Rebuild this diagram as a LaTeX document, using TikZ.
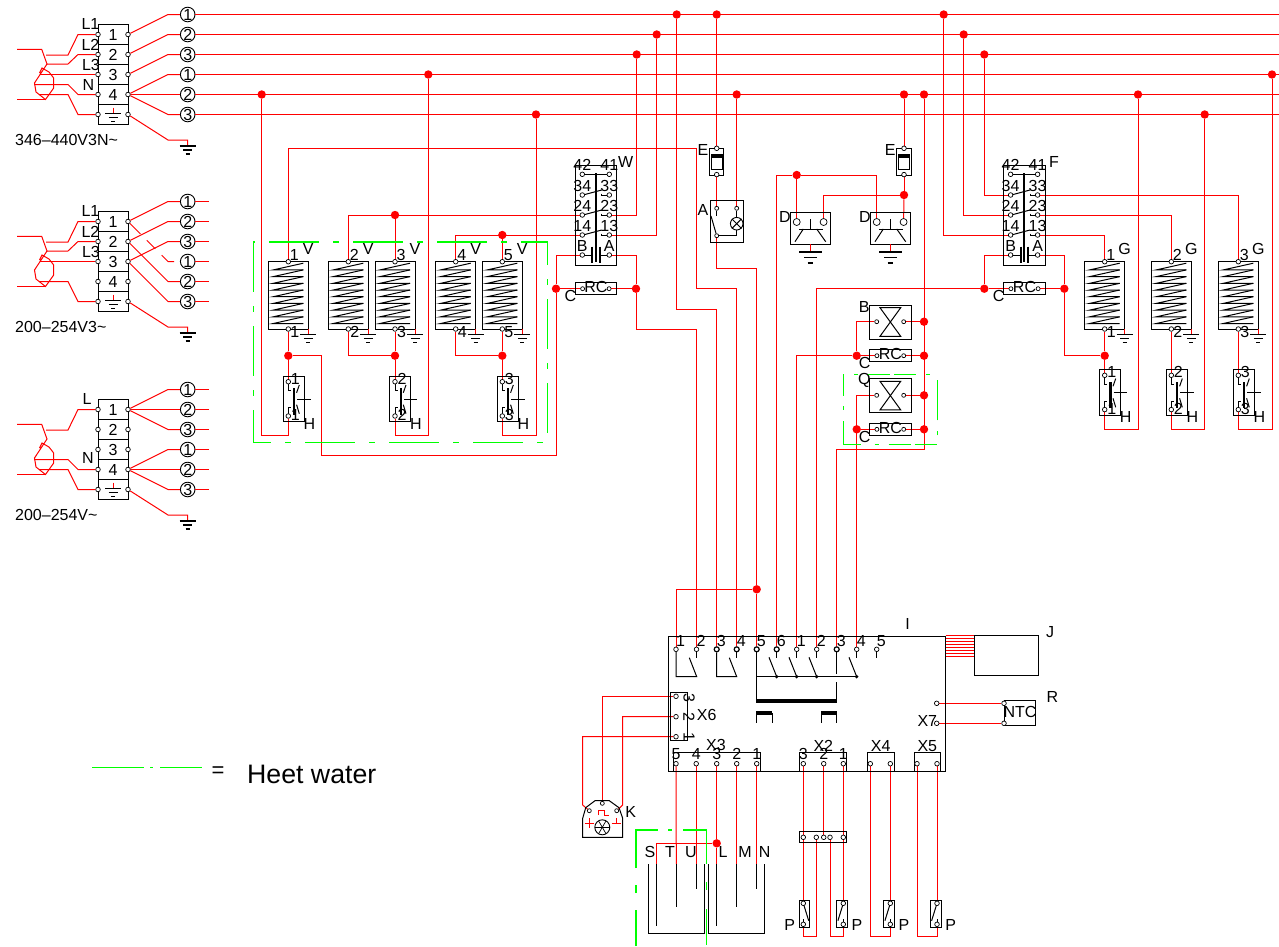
\documentclass[tikz,border=0pt]{standalone}
\usepackage{fontspec}
\setmainfont{Liberation Sans}
\usetikzlibrary{calc,backgrounds}

\tikzset{
	wire/.style={red,line width=1pt},
	part/.style={black,line width=1pt},
	heavy/.style={black,line width=2.2pt},
	gnd/.style={black,line width=1.5pt},
	heat/.style={green,line width=1.2pt,dash pattern=on 50pt off 14pt on 6pt off 14pt},
	term/.style={circle,draw=black,fill=white,line width=0.7pt,inner sep=0pt,minimum size=4.6pt},
	termb/.style={term,line width=1.2pt,minimum size=5pt},
	termw/.style={term,minimum size=7pt},
	dot/.style={circle,fill=red,inner sep=0pt,minimum size=8.4pt},
	bub/.style={circle,draw=black,fill=white,line width=0.9pt,inner sep=0pt,minimum size=14.6pt,font=\fontsize{16}{16}\selectfont},
	lab/.style={inner sep=0pt,font=\fontsize{16}{16}\selectfont},
}

% x, y, size
\newcommand{\earth}[3]{
	\draw[gnd] (#1-8*#3,#2) -- (#1+8*#3,#2);
	\draw[gnd] (#1-4.5*#3,#2+4*#3) -- (#1+4.5*#3,#2+4*#3);
	\draw[gnd] (#1-2*#3,#2+8*#3) -- (#1+2*#3,#2+8*#3);
}

% name, y shift, fan wires, inlet wires, labels, volts
\newcommand{\supply}[6]{
\begin{scope}[shift={(0,#2)}]
	\draw[part] (98,24.5) rectangle (128,124.5);
	\foreach \y in {44.5,64.5,84.5,104.5} \draw[part] (98,\y) -- (128,\y);
	\foreach \i/\y in {1/34.5,2/54.5,3/74.5,4/94.5} \node[lab] (#1n\i) at (113,\y) {\i};
	\foreach \i/\y in {1/34.5,2/54.5,3/74.5,4/94.5,5/114.5} {
		\node[term] (#1l\i) at (98,\y) {};
		\node[term] (#1r\i) at (128,\y) {};
	}
	\foreach \i/\n/\y in {1/1/14.5,2/2/34.5,3/3/54.5,4/1/74.5,5/2/94.5,6/3/114.5} {
		\node[bub] (#1c\i) at (187.7,\y) {\n};
		\coordinate (#1k\i) at (168,\y);
	}
	\draw[wire] (113,107.5) -- (113,113);
	\earth{113}{113.5}{1}
	\coordinate (#1k) at (168,140);
	\coordinate (#1g) at (187.7,146);
	\draw[wire] (#1r5) -- (#1k) -- (187.7,140) -- (#1g);
	\earth{187.7}{146}{1}
	\foreach \r/\c in {#3} \draw[wire] (#1r\r) -- (#1k\c) -- (#1c\c);
	% hand loop and inlet
	\draw[wire] (17,49.3) -- (41.7,49.3) -- (47,64) -- (34.5,83) -- (36,92) -- (45.5,99.5) -- (53.7,88) -- (53.7,78) -- (49,72) -- (42,68) -- (39.5,73);
	\draw[wire] (17,99.5) -- (45.5,99.5);
	\foreach \i/\s/\a/\b in {#4} \draw[wire] (\s,\a) -- (68,\a) -- (78,\b) -- (#1l\i);
	\foreach \s/\x/\y in {#5} \node[lab] (#1p\s) at (\x,\y) {\s};
	\node[lab,anchor=west] (#1v) at (15,140) {#6};
\end{scope}}

% name, x, number, letter
\newcommand{\coil}[4]{
\begin{scope}[shift={(#2,261.7)}]
	\node[part,draw,inner sep=0pt,minimum width=40pt,minimum height=67.3pt] (#1) at (0,33.65) {};
	\foreach \k in {0,...,8} {
		\draw[black,line width=1pt] (15,1.5+\k*6.7) -- (-15,8.2+\k*6.7) -- (15,8.2+\k*6.7);
	}
	\node[term] (#1t) at (0,0) {};
	\node[term] (#1b) at (0,67.3) {};
	\node[lab] (#1n) at (6,-7) {#3};
	\node[lab] (#1l) at (20,-13) {#4};
	\node[lab] (#1m) at (6.5,70.5) {#3};
	\draw[wire] (20,67.3) -- (20,73);
	\earth{20}{73}{1}
\end{scope}}

% name, x, y of upper terminal, number
\newcommand{\hsw}[4]{
\begin{scope}[shift={(#2,#3)}]
	\draw[part] (-5.3,-5.7) rectangle (15.7,40);
	\draw[part] (0,2.7) -- (0,9) -- (2.7,9);
	\draw[part] (11,3.3) -- (8.3,11);
	\draw[part] (0,32) -- (0,26) -- (2.7,26);
	\draw[part] (8.3,23) -- (11,32);
	\draw[part] (9,17.3) -- (22.3,17.3);
	\draw[heavy] (5.7,6.7) -- (5.7,33);
	\node[term] (#1t) at (0,0) {};
	\node[term] (#1b) at (0,34.3) {};
	\node[lab] (#1n) at (7,-3) {#4};
	\node[lab] (#1m) at (7,33.5) {#4};
	\node[lab] (#1l) at (21,42) {H};
\end{scope}}

% name, left of box, letter, x of letter
\newcommand{\contactor}[3]{
\begin{scope}[shift={(#2,165)}]
	\draw[part] (0,0) rectangle (41.7,100.3);
	\draw[part] (8,9.3) -- (34,9.3);
	\foreach \n/\m/\y in {34/33/30,24/23/50,14/13/70} {
		\draw[part] (8,\y) -- (26.7,\y-5);
		\draw[part] (26.7,\y-1.5) -- (26.7,\y) -- (34,\y);
	}
	\draw[heavy] (20.7,8) -- (20.7,97);
	\draw[heavy] (17.3,81.7) -- (17.3,97.7);
	\draw[heavy] (25,81.7) -- (25,97.7);
	\draw[part] (7.3,90) -- (17.3,90);
	\draw[part] (25,90) -- (34.3,90);
	\foreach \n/\m/\y in {42/41/9.3,34/33/30,24/23/50,14/13/70,B/A/90} {
		\node[term] (#1t\n) at (7.3,\y) {};
		\node[term] (#1t\m) at (34.3,\y) {};
		\node[lab] (#1n\n) at (7.3,\y-9.3) {\n};
		\node[lab] (#1n\m) at (34.3,\y-9.3) {\m};
	}
	\node[lab] (#1l) at (50.7,-3) {#3};
\end{scope}}

% name, left of box, y, width
\newcommand{\rcbox}[4]{
\begin{scope}[shift={(#2,#3)}]
	\draw[part] (0,-5.8) rectangle (#4,5.8);
	\node[term,minimum size=4pt] (#1l) at (7.6,0) {};
	\node[term,minimum size=4pt] (#1r) at (#4-7.6,0) {};
	\node[lab] (#1n) at (#4/2,-1.5) {RC};
	\node[lab] (#1c) at (-4.7,7.5) {C};
\end{scope}}

% name, y of terminals, letter
\newcommand{\valve}[3]{
\begin{scope}[shift={(869.3,#2)}]
	\draw[part] (0,-16.7) rectangle (42,17.3);
	\draw[part] (10.7,-14) -- (31.4,-14) -- (10.7,14.6) -- (31.4,14.6) -- cycle;
	\node[term,minimum size=4pt] (#1l) at (7.4,0) {};
	\node[term,minimum size=4pt] (#1r) at (34.4,0) {};
	\node[lab] (#1n) at (-5,-15) {#3};
\end{scope}}

% name, x
\newcommand{\fuse}[2]{
\begin{scope}[shift={(#2,148.3)}]
	\draw[part] (-7.7,0) rectangle (7,27);
	\draw[part] (-5.4,5.7) rectangle (5.6,20.7);
	\fill[black] (-5.4,5.7) rectangle (5.6,9.7);
	\node[term] (#1t) at (0,0) {};
	\node[term] (#1b) at (0,26.3) {};
	\node[lab] (#1n) at (-13.7,1.4) {E};
\end{scope}}

% name, x, letter
\newcommand{\horn}[2]{
\begin{scope}[shift={(#2,212.3)}]
	\draw[part] (0,0) rectangle (40,32);
	\draw[part] (9,16.7) -- (32.4,16.7);
	\draw[part] (20,6.7) -- (20,16.7);
	\draw[part] (4.7,29.4) -- (13,16.7);
	\draw[part] (26.4,16.7) -- (35.4,29.4);
	\node[termw] (#1l) at (6.4,9.7) {};
	\node[termw] (#1r) at (33.3,9.7) {};
	\node[lab] (#1n) at (-5.4,4.5) {D};
	\draw[wire] (20,32) -- (20,39.4);
	\earth{20}{39.7}{1.4}
\end{scope}}

% name, x, direction
\newcommand{\psw}[3]{
\begin{scope}[shift={(#2,903.3)},xscale=#3]
	\draw[part] (-4.3,-3.3) rectangle (6.4,24);
	\draw[part] (0,0) -- (5.4,17.4);
	\draw[part] (0,16) -- (0,21);
	\node[term] (#1t) at (0,0) {};
	\node[term] (#1b) at (0,21) {};
	\node[lab] (#1n) at (-13.7,21.7) {P};
\end{scope}}

\begin{document}
\begin{tikzpicture}[x=1pt,y=-1pt]
	\useasboundingbox (0,0) rectangle (1279,946);

	% supply blocks
	\supply{a}{0}{1/1,2/2,3/3,4/4,4/5,4/6}{1/46/55/34.5,2/47/64/54.5,3/40/74.5/74.5,4/34/84.5/94.5,5/39/94.5/114.5}{L1/90.5/24,L2/90.5/45,L3/91/64.5,N/88.5/85}{346–440V3N\textasciitilde}
	\supply{b}{187}{1/1,2/2,3/3,2/5,3/6}{1/46/55/34.5,2/47/64/54.5,3/40/74.5/74.5,5/39/94.5/114.5}{L1/90.5/24,L2/90.5/45,L3/91/64.5}{200–254V3\textasciitilde}
	\supply{c}{375}{1/1,1/2,1/3,4/4,4/5,4/6}{1/46/55/34.5,4/34/84.5/94.5,5/39/94.5/114.5}{L/87/24,N/88/83}{200–254V\textasciitilde}
	\draw[wire,dash pattern=on 15pt off 9pt on 12pt off 9pt] (br1) -- (bk4) -- (bc4);
	\foreach \i in {1,...,6} {
		\coordinate (ae\i) at (1279,{-5.5+20*\i});
		\draw[wire] (ac\i) -- (ae\i);
		\coordinate (be\i) at (208.5,{181.5+20*\i});
		\draw[wire] (bc\i) -- (be\i);
		\coordinate (ce\i) at (208.5,{369.5+20*\i});
		\draw[wire] (cc\i) -- (ce\i);
	}

	% parts
	\coil{V1}{288.3}{1}{V}
	\coil{V2}{348.3}{2}{V}
	\coil{V3}{395}{3}{V}
	\coil{V4}{455.7}{4}{V}
	\coil{V5}{502.3}{5}{V}
	\coil{G1}{1104.7}{1}{G}
	\coil{G2}{1171.3}{2}{G}
	\coil{G3}{1238.3}{3}{G}
	\hsw{H1}{288.3}{381.7}{1}
	\hsw{H2}{395}{381.7}{2}
	\hsw{H3}{502.3}{381.7}{3}
	\hsw{HA}{1104.7}{375.3}{1}
	\hsw{HB}{1171.3}{375.3}{2}
	\hsw{HC}{1238.3}{375.3}{3}
	\contactor{W}{575}{W}
	\contactor{F}{1003.3}{F}
	\rcbox{RW}{575}{288.7}{41.7}
	\rcbox{RF}{1003.3}{288.7}{42.4}
	\rcbox{RB}{869.3}{355.7}{42}
	\rcbox{RQ}{869.3}{429.3}{42}
	\valve{B}{321.7}{B}
	\valve{Q}{395.3}{Q}
	\fuse{EA}{716.7}
	\fuse{EB}{904}
	\horn{DA}{790.3}
	\horn{DB}{870.3}

	% lamp
	\draw[part] (710.3,200.7) rectangle (743.7,242.3);
	\node[circle,draw=black,line width=0.9pt,inner sep=0pt,minimum size=12.6pt] (lamp) at (736.7,223.7) {};
	\draw[part] (lamp.north west) -- (lamp.south east);
	\draw[part] (lamp.north east) -- (lamp.south west);
	\node[term,minimum size=4pt] (A1) at (716.7,208.3) {};
	\node[term,minimum size=4pt] (A2) at (736.7,208.3) {};
	\node[term,minimum size=4pt] (A3) at (716.7,235.7) {};
	\draw[part] (A2) -- (lamp);
	\draw[part] (lamp) |- (A3);
	\draw[part] (A1) -- (716.7,216);
	\draw[part] (711,216) -- (A3);
	\node[lab] (Al) at (703,210) {A};

	% main board
	\draw[part] (668,636) rectangle (945.7,771.7);
	\node[lab] (Il) at (907.7,624.3) {I};
	\foreach \i/\n/\x/\s in {1/1/676/term,2/2/696.5/term,3/3/716.7/termb,4/4/736.7/termb,5/5/756.7/termb,6/6/776.7/termb,7/1/796.7/term,8/2/816.7/term,9/3/836.7/termb,10/4/856.7/term,11/5/876.7/term} {
		\node[\s] (i\i) at (\x,649.3) {};
		\node[lab] (il\i) at (\x+4.5,641) {\n};
	}
	\foreach \x in {696.5,736.7,776.7,796.7,816.7,856.7,876.7} \draw[part] (\x,651.5) -- (\x,657.7);
	\draw[part] (i1) -- (676,676.7) -- (696.7,676.7) -- (689.3,657.7);
	\draw[part] (i3) -- (716.7,676.7) -- (736.7,676.7) -- (729.3,657.7);
	\draw[part] (i5) -- (756.7,700.7);
	\draw[part] (756.7,676.7) -- (856.7,676.7);
	\foreach \x in {776.7,796.7,816.7,856.7} {
		\draw[part] (\x-7.7,657.3) -- (\x,676.7);
		\fill[black] (\x,676.7) circle (1.8);
	}
	\draw[black,line width=1.5pt] (i9) -- (836.7,674.3);
	\draw[part] (836.7,682.3) -- (836.7,700.7);
	\draw[black,line width=4pt] (756.2,701) -- (837.2,701);
	\draw[black,line width=4pt] (756.2,713) -- (772,713);
	\draw[black,line width=4pt] (821.2,713) -- (837.2,713);
	\foreach \x in {756.7,772,821.7,836.7} \draw[part] (\x,713) -- (\x,723.3);

	% display and sensor
	\draw[part] (974.3,635.3) rectangle (1038.7,675.7);
	\node[lab] (Jl) at (1050,631.7) {J};
	\foreach \y in {0,...,7} {
		\coordinate (ja\y) at (945.7,635.5+\y*3);
		\coordinate (jb\y) at (974.3,635.5+\y*3);
		\draw[wire,line width=0.8pt] (ja\y) -- (jb\y);
	}
	\draw[part] (1004,700.7) rectangle (1035.7,725.7);
	\node[term] (xa) at (936.7,703.3) {};
	\node[term] (xb) at (936.7,723.3) {};
	\node[term] (ntca) at (1004,703.3) {};
	\node[term] (ntcb) at (1004,723.3) {};
	\node[lab] (ntcl) at (1020,712) {NTC};
	\node[lab] (Rl) at (1052.3,697.3) {R};
	\node[lab] (X7l) at (927.3,720.7) {X7};

	% connectors on the board
	\draw[part] (670.7,692.7) rectangle (687,740);
	\node[term] (xs3) at (676,696.3) {};
	\node[term] (xs2) at (676,716.7) {};
	\node[term] (xs1) at (676,736.7) {};
	\node[lab,rotate=-90] (xn3) at (689,698) {3};
	\node[lab,rotate=-90] (xn2) at (689,717) {2};
	\node[lab,rotate=-90] (xn1) at (689,737) {1};
	\node[lab] (X6l) at (706.7,715) {X6};
	\draw[part] (673.3,771.7) |- (760.3,752.7) -- (760.3,771.7);
	\foreach \i/\x in {5/676,4/696.2,3/716.7,2/736.7,1/756.7} {
		\node[term] (xt\i) at (\x,763.7) {};
		\node[lab] (xm\i) at (\x,754.3) {\i};
	}
	\node[lab] (X3l) at (716,745) {X3};
	\draw[part] (799.7,771.7) |- (846.7,752.7) -- (846.7,771.7);
	\foreach \i/\x in {3/803.3,2/823.7,1/843.3} {
		\node[term] (xu\i) at (\x,763.7) {};
		\node[lab] (xv\i) at (\x,754.3) {\i};
	}
	\node[lab] (X2l) at (823.3,745.7) {X2};
	\draw[part] (867.3,771.7) |- (894,752.3) -- (894,771.7);
	\node[term] (xf1) at (870.3,763.7) {};
	\node[term] (xf2) at (890.3,763.7) {};
	\node[lab] (X4l) at (880.7,745.7) {X4};
	\draw[part] (914,771.7) |- (940.7,752.3) -- (940.7,771.7);
	\node[term] (xg1) at (917,763.7) {};
	\node[term] (xg2) at (937,763.7) {};
	\node[lab] (X5l) at (927.3,745.7) {X5};

	% pump
	\draw[part] (582.7,837.3) -- (622.7,837.3) -- (622.7,818.3) -- (619,807.7) -- (609.3,800.7) -- (595,800.7) -- (585.7,807.7) -- (582.7,818.3) -- cycle;
	\node[circle,draw=black,line width=0.9pt,inner sep=0pt,minimum size=15pt] (fan) at (602.3,827.3) {};
	\foreach \a in {0,60,120} \draw[part,line width=0.7pt] ($(fan)+(\a:7.5)$) -- ($(fan)+(\a+180:7.5)$);
	\node[term,minimum size=4pt] (ka) at (589.3,810.7) {};
	\node[term,minimum size=4pt] (kb) at (602.3,803.3) {};
	\node[term,minimum size=4pt] (kc) at (616.7,810.7) {};
	\draw[wire] (584.8,823.3) -- (593.8,823.3);
	\draw[wire] (589.3,818.3) -- (589.3,828.3);
	\draw[wire] (598.3,815) -- (598.3,810.7) -- (604.3,810.7) -- (604.3,815) -- (609,815);
	\draw[wire] (611.7,823.3) -- (620.7,823.3);
	\draw[wire] (616,818.3) -- (616,823.3);
	\node[lab] (Kl) at (630.7,811.7) {K};

	% tanks
	\draw[part] (648.3,864) |- (704.3,933.3) -- (704.3,864);
	\draw[part] (708.3,864) |- (764.7,933.3) -- (764.7,864);
	\foreach \n/\x/\d/\lx in {S/656.7/926/650,T/676.3/906.7/670,U/696.2/889/691,L/716.7/926/723,M/736.7/906.7/745,N/756.7/889/764.7} {
		\coordinate (r\n) at (\x,864);
		\draw[part] (r\n) -- (\x,\d);
		\node[lab] (rl\n) at (\lx,851.7) {\n};
	}

	% flow switches
	\draw[part] (799.7,831.7) rectangle (846.7,842.3);
	\foreach \i/\x in {1/803.3,2/816.3,3/823.7,4/830,5/843.3} \node[term] (bar\i) at (\x,837.3) {};
	\psw{PA}{803.3}{1}
	\psw{PB}{843.3}{-1}
	\psw{PC}{890.3}{-1}
	\psw{PD}{937}{-1}

	% junctions
	\foreach \n/\x/\y in {jb1/261.7/94.5,jb2/428.3/74.5,jb3/536/114.5,jb4/636.7/54.5,jb5/656.7/34.5,jb6/676.7/14.5,jb7/716.7/14.5,jb8/736.7/94.5,jb9/904/94.5,jb10/924/94.5,jb11/943.7/14.5,jb12/963.7/34.5,jb13/984.3/54.5,jb14/1138/94.5,jb15/1204.7/114.5,jb16/1272/74.5,
		jv23/395/215,jv45/502.3/235,jh1/288.3/355.7,jh2/395/355.7,jh3/502.3/355.7,jwl/556/288.7,jwr/636/288.7,
		jd/796.7/175,je/904/195,jb/924/321.7,jcl/856.7/355.7,jcr/924/355.7,jq/924/395.3,jrl/856.7/429.3,jrr/924/429.3,
		jfl/984.3/288.7,jfr/1064.3/288.7,jg/1104.7/355.7,ji/756.7/589.3,js/716.7/843.3} {
		\node[dot] (\n) at (\x,\y) {};
	}

	% wiring
	\begin{scope}[on background layer]
	\draw[wire] (jb1) |- (288.3,435.7) -- (H1b);
	\draw[wire] (jb2) |- (395,435.7) -- (H2b);
	\draw[wire] (jb3) |- (502.3,435.7) -- (H3b);
	\draw[wire] (V1t) |- (696.7,148.7) |- (736.7,288.7) -- (i4);
	\draw[wire] (jb6) |- (716.7,309) -- (i3);
	\draw[wire] (jb5) |- (Wt13);
	\draw[wire] (jb4) |- (Wt23);
	\draw[wire] (Wt24) -| (V2t);
	\draw[wire] (jv23) -- (V3t);
	\draw[wire] (Wt14) -| (V4t);
	\draw[wire] (jv45) -- (V5t);
	\draw[wire] (V1b) -- (jh1) -- (H1t);
	\draw[wire] (V3b) -- (jh2) -- (H2t);
	\draw[wire] (V5b) -- (jh3) -- (H3t);
	\draw[wire] (V2b) |- (jh2);
	\draw[wire] (V4b) |- (jh3);
	\draw[wire] (WtB) -| (jwl);
	\draw[wire] (jwl) |- (321.7,455.7) |- (jh1);
	\draw[wire] (WtA) -| (jwr);
	\draw[wire] (jwr) |- (696.5,329) -- (i2);
	\draw[wire] (jwl) -- (RWl);
	\draw[wire] (RWr) -- (jwr);
	\draw[wire] (jb7) -- (EAt);
	\draw[wire] (EAb) -- (A1);
	\draw[wire] (jb8) -- (A2);
	\draw[wire] (A3) |- (756.7,268.3) -- (ji);
	\draw[wire] (ji) -- (i5);
	\draw[wire] (ji) -| (i1);
	\draw[wire] (jb9) -- (EBt);
	\draw[wire] (EBb) -- (je);
	\draw[wire] (je) -- (DBr);
	\draw[wire] (je) -| (DAr);
	\draw[wire] (jd) -- (DAl);
	\draw[wire] (jd) -| (DBl);
	\draw[wire] (jd) -| (i6);
	\draw[wire] (i7) |- (jcl);
	\draw[wire] (i8) |- (jfl);
	\draw[wire] (i9) |- (924,449.3) -- (jb10);
	\draw[wire] (i10) |- (Ql);
	\draw[wire] (jb) -- (Br);
	\draw[wire] (Bl) -| (jcl);
	\draw[wire] (jcl) -- (RBl);
	\draw[wire] (RBr) -- (jcr);
	\draw[wire] (jq) -- (Qr);
	\draw[wire] (jrl) -- (RQl);
	\draw[wire] (RQr) -- (jrr);
	\draw[wire] (jb11) |- (Ft14);
	\draw[wire] (jb12) |- (Ft24);
	\draw[wire] (jb13) |- (Ft34);
	\draw[wire] (Ft13) -| (G1t);
	\draw[wire] (Ft23) -| (G2t);
	\draw[wire] (Ft33) -| (G3t);
	\draw[wire] (FtB) -| (jfl);
	\draw[wire] (FtA) -| (jfr);
	\draw[wire] (jfr) |- (jg);
	\draw[wire] (jfl) -- (RFl);
	\draw[wire] (RFr) -- (jfr);
	\draw[wire] (G1b) -- (jg) -- (HAt);
	\draw[wire] (G2b) -- (HBt);
	\draw[wire] (G3b) -- (HCt);
	\draw[wire] (HAb) |- (1138,429) -- (jb14);
	\draw[wire] (HBb) |- (1204.7,429) -- (jb15);
	\draw[wire] (HCb) |- (1272,429) -- (jb16);
	\draw[wire] (xa) -- (ntca);
	\draw[wire] (xb) -- (ntcb);
	\draw[wire] (xs3) -| (kb);
	\draw[wire] (xs2) -| (622.7,805) -- (kc);
	\draw[wire] (xs1) -| (582.7,805) -- (ka);
	\draw[wire] (xt5) -- (rT);
	\draw[wire] (xt4) -- (rU);
	\draw[wire] (xt3) -- (js) -- (rL);
	\draw[wire] (xt2) -- (rM);
	\draw[wire] (xt1) -- (rN);
	\draw[wire] (js) -| (rS);
	\draw[wire] (xu3) -- (PAt);
	\draw[wire] (xu2) -- (bar3);
	\draw[wire] (xu1) -- (PBt);
	\draw[wire] (bar2) |- (803.3,936.7) -- (PAb);
	\draw[wire] (bar4) |- (843.3,936.7) -- (PBb);
	\draw[wire] (xf1) |- (890.3,936.7) -- (PCb);
	\draw[wire] (xf2) -- (PCt);
	\draw[wire] (xg1) |- (937,936.7) -- (PDb);
	\draw[wire] (xg2) -- (PDt);
	\end{scope}

	% hot water
	\draw[heat] (253.3,242) rectangle (547.7,442.3);
	\draw[heat,dash pattern=on 22pt off 10pt on 4pt off 11pt on 40pt off 14pt on 4pt off 10pt on 22pt off 4pt] (843.7,374.3) rectangle (937.7,444.3);
	\draw[heat,dash pattern=on 36pt off 17pt on 8pt off 17pt on 60pt off 10pt on 4pt off 11pt on 58pt off 18pt on 8pt off 19pt on 36pt] (636,946) |- (706.7,830) -- (706.7,946);
	\coordinate (lega) at (92,767);
	\coordinate (legb) at (202,767);
	\draw[green,line width=0.8pt,dash pattern=on 52pt off 6pt on 3pt off 7pt] (lega) -- (legb);
	\node[inner sep=0pt,font=\fontsize{22}{22}\selectfont] (legeq) at (218,772) {=};
	\node[anchor=west,inner sep=0pt,font=\fontsize{26.7}{26.7}\selectfont] (legtxt) at (247,774) {Heet water};
\end{tikzpicture}
\end{document}
